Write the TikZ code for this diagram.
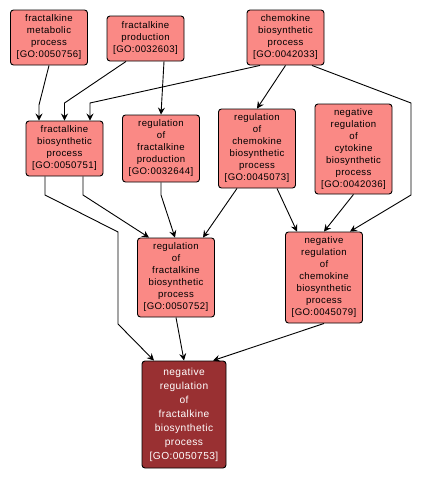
\documentclass[tikz,border=0pt]{standalone}
\usepackage{fontspec}
\setmainfont{Liberation Sans}[LetterSpace=4]
\usetikzlibrary{arrows.meta}
\definecolor{goterm}{RGB}{250,137,133}
\definecolor{goroot}{RGB}{153,48,50}

\begin{document}
\begin{tikzpicture}[x=1pt,y=-1pt,
    >={Stealth[length=7pt,width=7pt,inset=2.5pt]},
    line width=0.9pt,
    term/.style={draw,line width=0.9pt,rounded corners=3pt,fill=goterm,
      align=center,minimum width=77pt,inner sep=1pt,
      font=\fontsize{9.6}{12}\selectfont},
    target/.style={term,fill=goroot,text=white,minimum width=84pt,
      font=\fontsize{10.2}{14}\selectfont}]
  \useasboundingbox (0,0) rectangle (422,480);
  % top row
  \node[term,minimum height=55pt] (fmp) at (49,37.5) {fractalkine\\metabolic\\process\\{}[GO:0050756]};
  \node[term,minimum height=45pt] (fprod) at (145.5,38.5) {fractalkine\\production\\{}[GO:0032603]};
  \node[term,minimum height=55pt] (cbp) at (285.5,37.5) {chemokine\\biosynthetic\\process\\{}[GO:0042033]};
  % middle row
  \node[term,minimum height=55pt] (fbp) at (64.5,148.5) {fractalkine\\biosynthetic\\process\\{}[GO:0050751]};
  \node[term,minimum height=67pt] (rfprod) at (161,148.5) {regulation\\of\\fractalkine\\production\\{}[GO:0032644]};
  \node[term,minimum height=79pt] (rcbp) at (257,148.5) {regulation\\of\\chemokine\\biosynthetic\\process\\{}[GO:0045073]};
  \node[term,minimum height=90pt] (nrcyt) at (353.5,149) {negative\\regulation\\of\\cytokine\\biosynthetic\\process\\{}[GO:0042036]};
  % lower rows
  \node[term,minimum height=79pt] (rfbp) at (176,277.5) {regulation\\of\\fractalkine\\biosynthetic\\process\\{}[GO:0050752]};
  \node[term,minimum height=91pt] (nrcbp) at (324,277.5) {negative\\regulation\\of\\chemokine\\biosynthetic\\process\\{}[GO:0045079]};
  \node[target,minimum height=107pt] (nrfbp) at (184,414.5) {negative\\regulation\\of\\fractalkine\\biosynthetic\\process\\{}[GO:0050753]};

  \draw[->] (fmp.south) -- (39,105) -- ([xshift=-25.5]fbp.north);
  \draw[->] ([xshift=-19.5]fprod.south) -- (64.5,103) -- (fbp.north);
  \draw[->] ([xshift=-25.5]cbp.south) -- (90,103) -- ([xshift=25.5]fbp.north);
  \draw[->] ([xshift=18.5]fprod.south) -- (rfprod.north);
  \draw[->] (cbp.south) -- (rcbp.north);
  \draw[->] ([xshift=26.5]cbp.south) -- (411,103) -- (411,195) -- ([xshift=26]nrcbp.north);
  \draw[->] ([xshift=-19.5]fbp.south) -- (45,195) -- (118,232) -- (118,324) -- ([xshift=-30]nrfbp.north);
  \draw[->] ([xshift=18.5]fbp.south) -- (83,195) -- ([xshift=-27]rfbp.north);
  \draw[->] (rfprod.south) -- (161,195) -- ([xshift=-1]rfbp.north);
  \draw[->] ([xshift=-20]rcbp.south) -- ([xshift=27]rfbp.north);
  \draw[->] ([xshift=20]rcbp.south) -- ([xshift=-27]nrcbp.north);
  \draw[->] (nrcyt.south) -- (nrcbp.north);
  \draw[->] (rfbp.south) -- (nrfbp.north);
  \draw[->] (nrcbp.south) -- ([xshift=29]nrfbp.north);
\end{tikzpicture}
\end{document}
